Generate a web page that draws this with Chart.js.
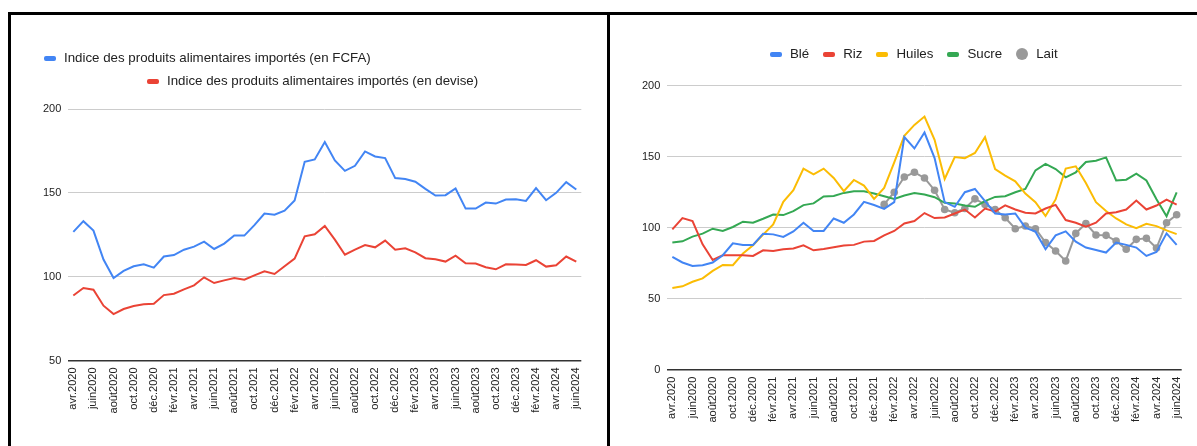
<!DOCTYPE html>
<html lang="fr">
<head>
<meta charset="utf-8">
<title>Indices des prix des produits alimentaires importés</title>
<script src="https://cdn.jsdelivr.net/npm/chart.js@4.4.1/dist/chart.umd.min.js"></script>
<style>
  html, body { margin: 0; padding: 0; background: #fff; }
  body { width: 1197px; height: 446px; position: relative; overflow: hidden;
         font-family: "Liberation Sans", Arial, sans-serif; }
  .cadre { position: absolute; left: 8px; top: 12px; width: 1200px; height: 440px;
           border-top: 3px solid #000; border-left: 3px solid #000; }
  .separateur { position: absolute; left: 607px; top: 12px; width: 3px; height: 434px; background: #000; }
  canvas { position: absolute; top: 15px; }
  #indices { left: 11px; }
  #produits { left: 610px; }
  .legende { position: absolute; font-size: 13.3px; color: #222; line-height: 16px; }
  .ligne { display: flex; align-items: center; white-space: nowrap; }
  .item { display: flex; align-items: center; margin-right: 14px; }
  .trait { width: 12px; height: 5px; border-radius: 2px; margin-right: 8px; }
  .rond { width: 12px; height: 12px; border-radius: 50%; margin-right: 8px; }
</style>
</head>
<body>
<div class="cadre"></div>
<div class="separateur"></div>
<canvas id="indices" width="596" height="431"></canvas>
<canvas id="produits" width="587" height="431"></canvas>
<div class="legende" id="leg-fcfa" style="left:44px; top:50px;"></div>
<div class="legende" id="leg-devise" style="left:147px; top:73px;"></div>
<div class="legende" id="leg-produits" style="left:770px; top:46px;"></div>

<script>
// mois d'avril 2020 à juin 2024
var mois = [
  "avr.2020", "mai2020", "juin2020", "juil.2020", "août2020", "sept.2020", "oct.2020", "nov.2020", "déc.2020",
  "janv.2021", "févr.2021", "mars2021", "avr.2021", "mai2021", "juin2021", "juil.2021", "août2021", "sept.2021", "oct.2021", "nov.2021", "déc.2021",
  "janv.2022", "févr.2022", "mars2022", "avr.2022", "mai2022", "juin2022", "juil.2022", "août2022", "sept.2022", "oct.2022", "nov.2022", "déc.2022",
  "janv.2023", "févr.2023", "mars2023", "avr.2023", "mai2023", "juin2023", "juil.2023", "août2023", "sept.2023", "oct.2023", "nov.2023", "déc.2023",
  "janv.2024", "févr.2024", "mars2024", "avr.2024", "mai2024", "juin2024"
];

var indiceFcfa = [
  126.7, 133.1, 127.5, 110.2, 99.2, 103.4, 106.2, 107.4, 105.4, 112,
  112.9, 116.1, 117.9, 120.9, 116.5, 119.7, 124.5, 124.5, 130.7, 137.6,
  137, 139.4, 145.4, 168.5, 169.9, 180.3, 169.3, 163.1, 166.1, 174.7,
  171.7, 170.7, 158.8, 158.2, 156.6, 152.4, 148.4, 148.6, 152.6, 140.6,
  140.6, 144.2, 143.6, 146, 146.2, 145.2, 152.8, 145.6, 150, 156.4,
  152
];
var indiceDevise = [
  88.8, 93.2, 92.2, 82.7, 77.7, 80.7, 82.5, 83.5, 83.9, 89,
  89.8, 92.4, 94.8, 99.6, 96.2, 97.8, 99.2, 98.2, 100.8, 103.2,
  101.6, 106.2, 110.8, 124.1, 125.3, 130.3, 122.1, 113.1, 116.1, 118.9,
  117.5, 121.5, 116.1, 116.9, 114.5, 111, 110.4, 109, 112.5, 108,
  107.8, 105.6, 104.4, 107.4, 107.2, 107, 109.8, 106, 106.8, 112,
  109
];

var ble = [
  79.4, 75.5, 73.1, 73.6, 75.5, 80.6, 89, 87.9, 87.9, 95.8,
  95.3, 93.5, 97.4, 103.5, 97.7, 97.7, 106.5, 103.5, 109.3, 118.2,
  116, 113.3, 118, 163.8, 155.8, 167, 149, 118, 114.7, 125,
  127.3, 118.7, 110, 109.3, 110, 100, 97.2, 84.8, 94.6, 97.4,
  90.2, 86, 84.3, 82.5, 89.5, 87.9, 86, 80.1, 82.9, 96,
  87.9
];
var riz = [
  98.8, 106.8, 104.7, 88.3, 77.3, 80.6, 80.6, 80.6, 80.1, 84.1,
  83.6, 84.8, 85.3, 87.6, 84.1, 85, 86.2, 87.4, 87.9, 90.2,
  90.7, 94.6, 97.7, 103, 104.7, 110.3, 106.8, 107.2, 110, 112.8,
  107.2, 113.5, 111.4, 115.7, 112.8, 110.5, 110, 113.5, 116.1, 105.4,
  103.5, 100.7, 103.5, 110, 110.9, 112.8, 119.1, 112.8, 115.6, 119.8,
  116.3
];
var huiles = [
  57.5, 58.7, 61.9, 64.3, 69.6, 73.8, 73.6, 81.8, 87.6, 95.1,
  102.3, 118.2, 126.4, 141.6, 137.6, 141.6, 135, 125.7, 133.6, 129.7,
  120.3, 128, 146, 164.7, 172.4, 178.3, 161.9, 134.3, 149.8, 149,
  152.6, 163.8, 141.3, 136.7, 132.7, 124, 118, 108.2, 119.9, 141.6,
  143.2, 131.5, 118, 111.7, 106.5, 102.3, 99.7, 102.8, 101.1, 98.1,
  95.5
];
var sucre = [
  89.5, 90.4, 93.7, 95.8, 99.3, 97.7, 100.5, 104.2, 103.5, 106.3,
  109.3, 108.9, 111.7, 115.9, 117.1, 122, 122.4, 124.5, 125.7, 125.7,
  124.1, 122.2, 120.3, 122.7, 124.5, 123.4, 121.5, 117.5, 117.1, 115.7,
  114.7, 118.7, 121.7, 122.2, 125, 127.3, 140.4, 144.9, 141.3, 135.5,
  139, 146.3, 147.2, 149.5, 133.3, 133.8, 138, 133.3, 120, 108.1,
  124.9
];
// le lait n'est suivi qu'à partir de janvier 2022
var lait = [
  null, null, null, null, null, null, null, null, null, null,
  null, null, null, null, null, null, null, null, null, null,
  null, 116.4, 125, 135.7, 139, 135, 126.4, 112.8, 110.5, 113.5,
  120.3, 116.4, 112.8, 107, 99.3, 101.2, 99.3, 89.5, 83.6, 76.6,
  96, 103, 94.9, 94.6, 90.6, 84.8, 91.8, 92.5, 85.7, 103.5,
  109.1
];

Chart.defaults.font.family = '"Liberation Sans", Arial, sans-serif';
Chart.defaults.font.size = 11;
Chart.defaults.color = '#222';

function ligne(label, data, couleur) {
  return {
    label: label,
    data: data,
    borderColor: couleur,
    backgroundColor: couleur,
    borderWidth: 2,
    pointRadius: 0,
    tension: 0
  };
}

function options(minY, maxY, padDroite, padHaut, hauteurX) {
  return {
    responsive: false,
    animation: false,
    layout: { padding: { top: padHaut, right: padDroite, left: 0, bottom: 0 } },
    plugins: { legend: { display: false }, tooltip: { enabled: false } },
    scales: {
      x: {
        offset: true,
        grid: { display: false, drawTicks: false },
        border: { display: false },
        ticks: {
          autoSkip: false,
          maxRotation: 90,
          minRotation: 90,
          padding: 7,
          callback: function (v, i) { return i % 2 === 0 ? mois[i] : ''; }
        },
        afterFit: function (scale) { scale.height = hauteurX; }
      },
      y: {
        min: minY,
        max: maxY,
        grid: {
          drawTicks: false,
          color: function (c) { return c.tick && c.tick.value === minY ? '#333' : '#ccc'; },
          lineWidth: function (c) { return c.tick && c.tick.value === minY ? 1.5 : 1; }
        },
        border: { display: false },
        ticks: { stepSize: 50, padding: 7 },
        afterFit: function (scale) { scale.width = 57.3; }
      }
    }
  };
}

function itemLegende(ds, rond) {
  var item = document.createElement('div');
  item.className = 'item';
  var marque = document.createElement('span');
  marque.className = rond ? 'rond' : 'trait';
  marque.style.background = ds.borderColor;
  var texte = document.createElement('span');
  texte.textContent = ds.label;
  item.appendChild(marque);
  item.appendChild(texte);
  return item;
}

var chartIndices = new Chart(document.getElementById('indices'), {
  type: 'line',
  data: {
    labels: mois,
    datasets: [
      ligne('Indice des produits alimentaires importés (en FCFA)', indiceFcfa, '#4285F4'),
      ligne('Indice des produits alimentaires importés (en devise)', indiceDevise, '#EA4335')
    ]
  },
  options: options(50, 200, 25.7, 94, 85.5)
});

var laitDs = ligne('Lait', lait, '#999999');
laitDs.pointRadius = 3.8;
laitDs.pointBorderWidth = 0;

var chartProduits = new Chart(document.getElementById('produits'), {
  type: 'line',
  data: {
    labels: mois,
    datasets: [
      ligne('Blé', ble, '#4285F4'),
      ligne('Riz', riz, '#EA4335'),
      ligne('Huiles', huiles, '#FBBC04'),
      ligne('Sucre', sucre, '#34A853'),
      laitDs
    ]
  },
  options: options(0, 200, 14.7, 70.7, 76.3)
});

// légendes
var dsI = chartIndices.data.datasets;
document.getElementById('leg-fcfa').appendChild(itemLegende(dsI[0], false));
document.getElementById('leg-devise').appendChild(itemLegende(dsI[1], false));

var legP = document.getElementById('leg-produits');
legP.classList.add('ligne');
chartProduits.data.datasets.forEach(function (ds) {
  legP.appendChild(itemLegende(ds, ds.label === 'Lait'));
});
</script>
</body>
</html>
